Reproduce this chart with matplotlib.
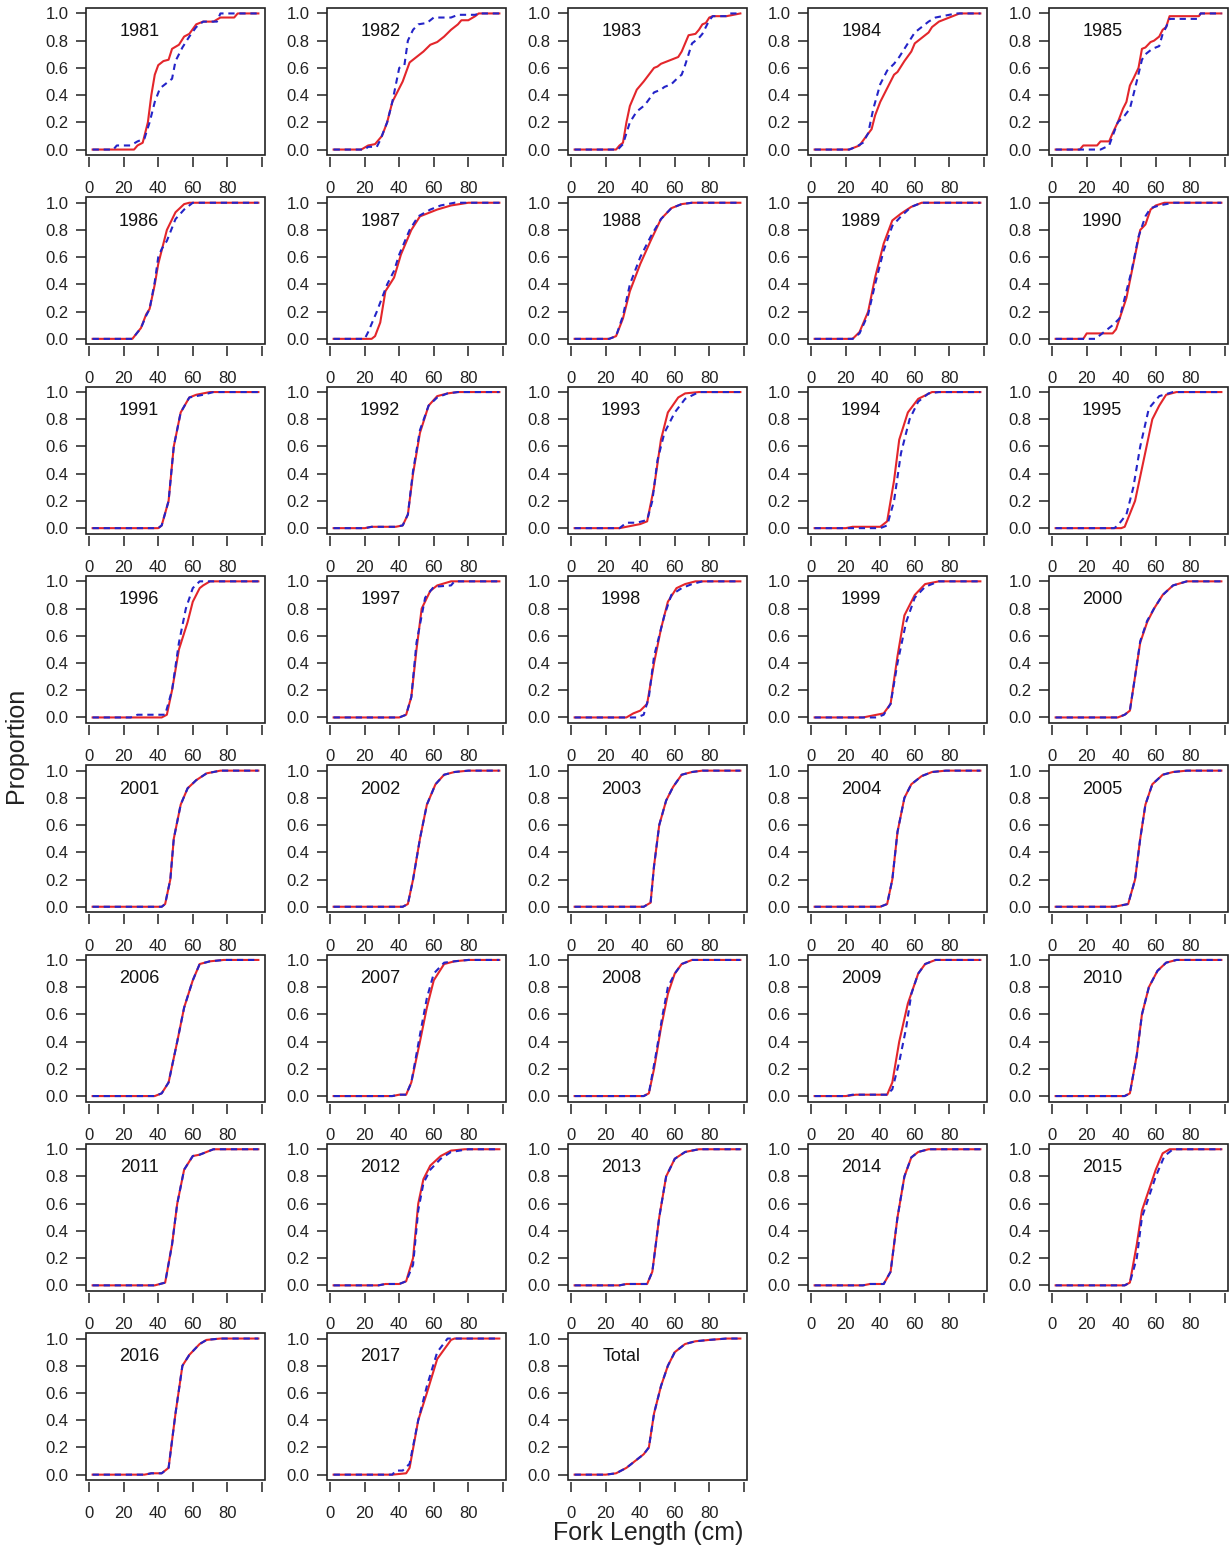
import matplotlib
matplotlib.use('Agg')
import matplotlib.pyplot as plt
from matplotlib.patches import Rectangle

plt.rcParams['font.family'] = ['Liberation Sans', 'DejaVu Sans']

panels = ['1981', '1982', '1983', '1984', '1985',
          '1986', '1987', '1988', '1989', '1990',
          '1991', '1992', '1993', '1994', '1995',
          '1996', '1997', '1998', '1999', '2000',
          '2001', '2002', '2003', '2004', '2005',
          '2006', '2007', '2008', '2009', '2010',
          '2011', '2012', '2013', '2014', '2015',
          '2016', '2017', 'Total']

## cumulative proportion by fork length, red = solid line, blue = dashed line
red_x = [
    [2, 26, 28, 31, 34, 36, 38, 40, 43, 46, 48, 52, 55, 58, 62, 66, 72, 76, 84, 86, 98],
    [2, 18, 22, 26, 30, 33, 36, 40, 42, 46, 50, 54, 58, 62, 66, 70, 74, 76, 80, 84, 86, 98],
    [2, 26, 28, 30, 32, 34, 38, 42, 45, 48, 50, 52, 56, 60, 62, 64, 66, 68, 72, 74, 76, 78, 80, 82, 90, 94, 98],
    [2, 22, 26, 28, 32, 35, 37, 40, 44, 48, 50, 54, 58, 60, 64, 68, 70, 74, 78, 82, 86, 98],
    [2, 16, 18, 26, 28, 33, 35, 38, 41, 43, 45, 47, 50, 52, 54, 57, 59, 62, 64, 66, 68, 85, 86, 98],
    [2, 25, 30, 33, 35, 38, 40, 42, 45, 50, 55, 58, 98],
    [2, 24, 26, 29, 32, 37, 41, 47, 52, 58, 62, 70, 80, 98],
    [2, 22, 26, 30, 34, 40, 46, 52, 58, 64, 70, 98],
    [2, 24, 28, 33, 37, 42, 47, 52, 58, 64, 98],
    [2, 18, 20, 35, 37, 43, 47, 51, 54, 57, 60, 65, 98],
    [2, 40, 42, 46, 49, 53, 58, 62, 70, 98],
    [2, 20, 24, 38, 42, 45, 48, 52, 57, 62, 68, 74, 98],
    [2, 28, 32, 40, 44, 48, 52, 56, 62, 66, 74, 98],
    [2, 20, 24, 40, 44, 48, 51, 56, 62, 70, 98],
    [2, 40, 42, 48, 53, 58, 62, 66, 72, 98],
    [2, 42, 45, 48, 52, 57, 60, 64, 66, 70, 98],
    [2, 40, 44, 47, 50, 53, 58, 62, 70, 98],
    [2, 32, 36, 40, 44, 48, 52, 56, 61, 66, 72, 98],
    [2, 30, 34, 42, 46, 50, 54, 60, 66, 74, 98],
    [2, 38, 42, 45, 48, 51, 55, 59, 64, 70, 78, 98],
    [2, 42, 44, 47, 49, 53, 57, 62, 68, 76, 98],
    [2, 42, 45, 48, 52, 56, 61, 66, 72, 80, 98],
    [2, 42, 46, 48, 51, 55, 59, 64, 70, 76, 98],
    [2, 40, 44, 47, 50, 54, 58, 64, 70, 78, 98],
    [2, 36, 40, 44, 48, 51, 54, 58, 64, 70, 78, 98],
    [2, 38, 42, 46, 51, 55, 60, 64, 70, 78, 98],
    [2, 36, 40, 44, 47, 52, 56, 60, 66, 72, 80, 98],
    [2, 42, 45, 48, 52, 56, 60, 64, 70, 98],
    [2, 20, 26, 44, 47, 51, 56, 62, 66, 72, 98],
    [2, 42, 45, 49, 52, 56, 61, 66, 72, 98],
    [2, 38, 41, 44, 48, 51, 55, 60, 64, 68, 72, 98],
    [2, 28, 32, 40, 44, 48, 51, 54, 58, 64, 70, 78, 98],
    [2, 28, 32, 44, 47, 51, 55, 60, 66, 74, 98],
    [2, 30, 34, 42, 46, 50, 54, 58, 62, 68, 98],
    [2, 42, 45, 49, 52, 56, 60, 64, 68, 98],
    [2, 32, 36, 42, 46, 50, 54, 58, 64, 68, 76, 98],
    [2, 36, 44, 46, 51, 56, 62, 70, 72, 98],
    [2, 20, 26, 32, 37, 42, 45, 48, 52, 56, 60, 66, 72, 80, 90, 98],
]
red_y = [
    [0, 0, .03, .05, .2, .4, .55, .62, .65, .66, .74, .77, .83, .85, .92, .94, .94, .97, .97, 1, 1],
    [0, 0, .03, .04, .1, .2, .35, .45, .5, .64, .68, .72, .77, .79, .83, .88, .92, .95, .95, .98, 1, 1],
    [0, 0, .03, .05, .2, .32, .44, .5, .55, .6, .61, .63, .65, .67, .68, .72, .78, .84, .85, .88, .92, .93, .97, .98, .98, .99, 1],
    [0, 0, .02, .03, .1, .15, .25, .35, .45, .55, .57, .65, .72, .78, .82, .86, .9, .94, .96, .98, 1, 1],
    [0, 0, .03, .03, .06, .06, .12, .2, .3, .35, .47, .52, .6, .74, .75, .79, .8, .83, .88, .9, .98, .98, 1, 1],
    [0, 0, .08, .18, .22, .4, .55, .65, .8, .93, .99, 1, 1],
    [0, 0, .02, .12, .35, .45, .62, .8, .9, .93, .95, .98, 1, 1],
    [0, 0, .02, .15, .35, .55, .72, .88, .96, .99, 1, 1],
    [0, 0, .05, .2, .45, .7, .87, .92, .97, 1, 1],
    [0, 0, .04, .04, .07, .3, .55, .8, .84, .95, .98, 1, 1],
    [0, 0, .02, .2, .6, .85, .96, .98, 1, 1],
    [0, 0, .01, .01, .02, .1, .4, .7, .9, .97, .99, 1, 1],
    [0, 0, .01, .03, .05, .3, .65, .85, .96, .99, 1, 1],
    [0, 0, .01, .01, .05, .35, .65, .85, .95, 1, 1],
    [0, 0, .01, .2, .5, .8, .9, .98, 1, 1],
    [0, 0, .02, .2, .5, .7, .85, .95, .97, 1, 1],
    [0, 0, .02, .15, .5, .8, .93, .97, 1, 1],
    [0, 0, .03, .05, .1, .4, .65, .85, .95, .98, 1, 1],
    [0, 0, .01, .03, .1, .45, .75, .9, .98, 1, 1],
    [0, 0, .02, .05, .3, .55, .7, .8, .9, .97, 1, 1],
    [0, 0, .02, .2, .5, .75, .87, .93, .98, 1, 1],
    [0, 0, .02, .2, .5, .75, .9, .97, .99, 1, 1],
    [0, 0, .03, .3, .6, .78, .88, .97, .99, 1, 1],
    [0, 0, .02, .2, .55, .8, .9, .96, .99, 1, 1],
    [0, 0, .01, .02, .2, .5, .75, .9, .97, .99, 1, 1],
    [0, 0, .02, .1, .4, .65, .85, .97, .99, 1, 1],
    [0, 0, .01, .01, .1, .4, .65, .85, .97, .99, 1, 1],
    [0, 0, .02, .2, .5, .75, .9, .97, 1, 1],
    [0, 0, .01, .01, .1, .4, .68, .9, .97, 1, 1],
    [0, 0, .02, .3, .6, .8, .92, .98, 1, 1],
    [0, 0, .01, .02, .3, .6, .85, .95, .96, .98, 1, 1],
    [0, 0, .01, .01, .03, .2, .6, .78, .88, .95, .99, 1, 1],
    [0, 0, .01, .01, .1, .5, .8, .93, .98, 1, 1],
    [0, 0, .01, .01, .1, .5, .8, .94, .98, 1, 1],
    [0, 0, .02, .3, .55, .7, .85, .97, 1, 1],
    [0, 0, .01, .01, .05, .45, .8, .88, .96, .99, 1, 1],
    [0, 0, .01, .05, .4, .6, .85, .99, 1, 1],
    [0, 0, .01, .05, .1, .15, .2, .45, .65, .8, .9, .96, .98, .99, 1, 1],
]
blue_x = [
    [2, 14, 16, 24, 28, 32, 35, 38, 41, 46, 48, 50, 54, 58, 62, 66, 74, 76, 98],
    [2, 20, 22, 27, 29, 33, 36, 40, 43, 45, 48, 51, 56, 60, 70, 74, 84, 86, 98],
    [2, 27, 30, 32, 34, 38, 42, 44, 48, 52, 54, 58, 62, 64, 66, 68, 70, 74, 76, 78, 80, 82, 90, 92, 98],
    [2, 22, 26, 30, 33, 36, 40, 44, 48, 51, 56, 60, 64, 68, 72, 76, 80, 84, 98],
    [2, 28, 33, 35, 38, 42, 45, 48, 52, 54, 58, 62, 64, 66, 68, 84, 86, 98],
    [2, 25, 30, 33, 35, 38, 40, 42, 45, 50, 55, 60, 98],
    [2, 20, 22, 27, 33, 37, 40, 46, 51, 58, 64, 72, 98],
    [2, 22, 26, 30, 34, 40, 46, 52, 58, 64, 70, 98],
    [2, 24, 28, 33, 37, 42, 47, 52, 58, 64, 98],
    [2, 25, 30, 35, 39, 42, 46, 50, 54, 57, 62, 70, 98],
    [2, 40, 42, 46, 49, 53, 58, 62, 66, 72, 98],
    [2, 20, 24, 38, 42, 45, 48, 52, 57, 62, 68, 74, 98],
    [2, 28, 32, 38, 44, 47, 50, 54, 60, 66, 74, 98],
    [2, 40, 44, 48, 52, 57, 62, 68, 74, 98],
    [2, 36, 38, 43, 47, 51, 56, 62, 70, 98],
    [2, 24, 28, 44, 48, 52, 56, 60, 64, 98],
    [2, 40, 44, 47, 50, 55, 60, 70, 72, 98],
    [2, 38, 42, 45, 48, 50, 54, 58, 64, 70, 76, 98],
    [2, 38, 42, 46, 50, 55, 60, 66, 74, 98],
    [2, 38, 42, 45, 48, 51, 55, 59, 64, 70, 78, 98],
    [2, 42, 44, 47, 49, 53, 57, 62, 68, 76, 98],
    [2, 42, 45, 48, 52, 56, 61, 66, 72, 80, 98],
    [2, 42, 46, 48, 51, 55, 59, 64, 70, 76, 98],
    [2, 40, 44, 47, 50, 54, 58, 64, 70, 78, 98],
    [2, 36, 40, 44, 48, 51, 54, 58, 64, 70, 78, 98],
    [2, 38, 42, 46, 51, 55, 60, 64, 70, 78, 98],
    [2, 36, 40, 44, 47, 52, 56, 60, 66, 72, 80, 98],
    [2, 42, 45, 49, 53, 56, 60, 64, 70, 98],
    [2, 20, 24, 44, 47, 51, 55, 58, 62, 66, 72, 98],
    [2, 42, 45, 49, 52, 56, 61, 66, 72, 98],
    [2, 38, 41, 44, 48, 51, 55, 60, 64, 68, 72, 98],
    [2, 28, 32, 40, 44, 48, 51, 54, 58, 64, 70, 80, 98],
    [2, 28, 32, 44, 47, 51, 55, 60, 66, 74, 98],
    [2, 30, 34, 42, 46, 50, 54, 58, 62, 68, 98],
    [2, 42, 45, 49, 52, 56, 60, 65, 70, 98],
    [2, 32, 36, 42, 46, 50, 54, 58, 64, 68, 76, 98],
    [2, 36, 38, 42, 46, 51, 56, 62, 68, 98],
    [2, 20, 26, 32, 37, 42, 45, 48, 52, 56, 60, 66, 72, 80, 90, 98],
]
blue_y = [
    [0, 0, .03, .03, .06, .08, .2, .35, .45, .5, .52, .65, .75, .83, .9, .94, .94, 1, 1],
    [0, 0, .02, .02, .07, .2, .35, .6, .62, .8, .88, .92, .93, .97, .97, .99, .99, 1, 1],
    [0, 0, .04, .12, .2, .28, .32, .35, .42, .44, .46, .48, .53, .55, .62, .7, .78, .82, .85, .9, .95, .98, .98, 1, 1],
    [0, 0, .02, .05, .12, .3, .48, .58, .63, .68, .78, .86, .9, .94, .97, .98, .99, 1, 1],
    [0, 0, .03, .1, .2, .25, .3, .45, .66, .7, .74, .76, .85, .9, .96, .96, 1, 1],
    [0, 0, .08, .17, .22, .42, .6, .66, .72, .88, .95, 1, 1],
    [0, 0, .05, .2, .4, .5, .62, .8, .9, .95, .98, 1, 1],
    [0, 0, .02, .17, .4, .6, .75, .88, .96, .99, 1, 1],
    [0, 0, .04, .18, .4, .65, .83, .9, .97, 1, 1],
    [0, 0, .05, .1, .15, .3, .5, .75, .9, .96, .98, 1, 1],
    [0, 0, .02, .2, .6, .85, .96, .97, .98, 1, 1],
    [0, 0, .01, .01, .02, .1, .42, .72, .9, .96, .99, 1, 1],
    [0, 0, .04, .04, .06, .2, .5, .7, .85, .95, 1, 1],
    [0, 0, .02, .2, .55, .8, .93, .99, 1, 1],
    [0, 0, .02, .1, .3, .6, .88, .97, 1, 1],
    [0, 0, .02, .02, .2, .55, .8, .95, 1, 1],
    [0, 0, .02, .15, .55, .88, .96, .97, 1, 1],
    [0, 0, .02, .15, .45, .55, .75, .9, .95, .98, 1, 1],
    [0, 0, .02, .1, .4, .7, .88, .96, 1, 1],
    [0, 0, .02, .05, .3, .56, .71, .8, .9, .97, 1, 1],
    [0, 0, .02, .2, .5, .75, .87, .93, .98, 1, 1],
    [0, 0, .02, .2, .5, .75, .9, .97, .99, 1, 1],
    [0, 0, .03, .3, .6, .78, .88, .97, .99, 1, 1],
    [0, 0, .02, .2, .55, .8, .9, .96, .99, 1, 1],
    [0, 0, .01, .02, .2, .5, .75, .9, .97, .99, 1, 1],
    [0, 0, .02, .1, .4, .65, .85, .97, .99, 1, 1],
    [0, 0, .01, .01, .1, .45, .72, .9, .98, .99, 1, 1],
    [0, 0, .02, .3, .6, .8, .9, .97, 1, 1],
    [0, 0, .01, .01, .05, .25, .5, .75, .9, .97, 1, 1],
    [0, 0, .02, .3, .6, .8, .92, .98, 1, 1],
    [0, 0, .01, .02, .3, .6, .85, .95, .96, .98, 1, 1],
    [0, 0, .01, .01, .03, .15, .55, .75, .85, .93, .98, 1, 1],
    [0, 0, .01, .01, .1, .5, .8, .93, .98, 1, 1],
    [0, 0, .01, .01, .1, .5, .8, .94, .98, 1, 1],
    [0, 0, .02, .2, .5, .65, .8, .95, 1, 1],
    [0, 0, .01, .01, .05, .45, .8, .88, .96, .99, 1, 1],
    [0, 0, .03, .03, .08, .4, .65, .9, 1, 1],
    [0, 0, .01, .05, .1, .15, .2, .45, .65, .8, .9, .96, .98, .99, 1, 1],
]

x_ticks = [0, 20, 40, 60, 80, 100]
x_tick_labels = ['0', '20', '40', '60', '80', '']
y_ticks = [0.0, 0.2, 0.4, 0.6, 0.8, 1.0]
y_tick_labels = ['0.0', '0.2', '0.4', '0.6', '0.8', '1.0']

W, H = 1230, 1547
fig = plt.figure(figsize=(W / 100, H / 100), dpi=100)

col_left = [86, 327, 568, 808, 1049]
box_w, box_h = 179, 147

for i, name in enumerate(panels):
    r, c = divmod(i, 5)
    top = 8 + 189.3 * r
    ax = fig.add_axes([col_left[c] / W, 1 - (top + box_h) / H, box_w / W, box_h / H])
    ax.plot(red_x[i], red_y[i], color='#e3262b', lw=1.5, solid_joinstyle='round')
    ax.plot(blue_x[i], blue_y[i], color='#2424c8', lw=1.5, linestyle=(0, (3.0, 2.3)))
    ax.set_xlim(-1.84, 101.84)
    ax.set_ylim(-0.04, 1.04)
    ax.text(29, 0.865, name, ha='center', va='center', fontsize=13, color='#111111')

    ## box drawn as a patch, bottom axis moved down below it
    for s in ax.spines.values():
        s.set_visible(False)
    ax.spines['bottom'].set_visible(True)
    ax.spines['bottom'].set_color('none')
    ax.spines['bottom'].set_position(('outward', 1.5))
    ax.add_patch(Rectangle((0, 0), 1, 1, transform=ax.transAxes, fill=False,
                           lw=1.2, edgecolor='#222222', clip_on=False, zorder=5))

    ax.set_xticks(x_ticks, labels=x_tick_labels)
    ax.set_yticks(y_ticks, labels=y_tick_labels)
    ax.tick_params(axis='x', direction='out', length=7, width=1.1, pad=10.5,
                   labelsize=12, colors='#222222')
    ax.tick_params(axis='y', direction='out', length=7, width=1.1, pad=5.5,
                   labelsize=12, colors='#222222')

fig.text(16 / W, 1 - 745 / H, 'Proportion', rotation=90, ha='center', va='center',
         fontsize=18, color='#222222')
fig.text(648 / W, 1 - 1533 / H, 'Fork Length (cm)', ha='center', va='center',
         fontsize=18, color='#222222')

fig.savefig('out.png', dpi=100, facecolor='white')
